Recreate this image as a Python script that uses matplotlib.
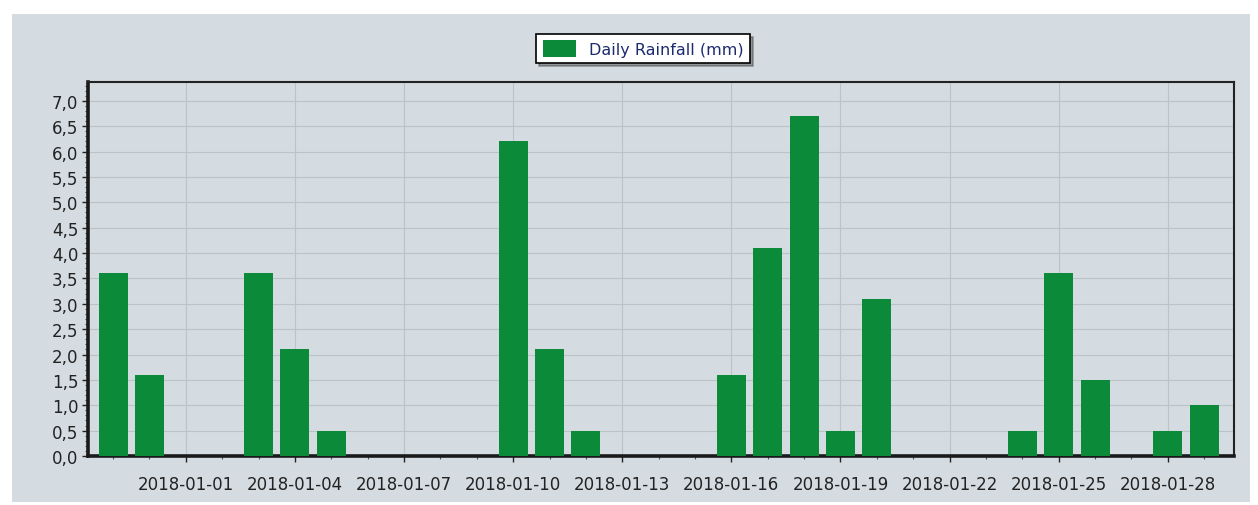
import numpy as np
import matplotlib.pyplot as plt
import matplotlib.dates as mdates
from matplotlib.patches import Rectangle
from matplotlib.ticker import MultipleLocator, FuncFormatter
from datetime import datetime

# daily rainfall readings (mm), only days with rain
rain_dates = ["2017-12-30", "2017-12-31", "2018-01-03", "2018-01-04", "2018-01-05",
              "2018-01-10", "2018-01-11", "2018-01-12", "2018-01-16", "2018-01-17",
              "2018-01-18", "2018-01-19", "2018-01-20", "2018-01-24", "2018-01-25",
              "2018-01-26", "2018-01-28", "2018-01-29"]
rain_mm = [3.6, 1.6, 3.6, 2.1, 0.5,
           6.2, 2.1, 0.5, 1.6, 4.1,
           6.7, 0.5, 3.1, 0.5, 3.6,
           1.5, 0.5, 1.0]

dates = [datetime.strptime(d, "%Y-%m-%d") for d in rain_dates]
x = mdates.date2num(dates)

bg = "#d4dce1"
green = "#0b8a3a"

fig = plt.figure(figsize=(12.58, 5.06), dpi=100, facecolor="white")
# grey panel of the screenshot
fig.patches.append(Rectangle((12 / 1258, 3 / 506), 1238 / 1258, 488 / 506,
                             transform=fig.transFigure, facecolor=bg,
                             edgecolor="none", zorder=-5))

ax = fig.add_axes([88 / 1258, 49 / 506, 1146 / 1258, 374 / 506])
ax.set_facecolor(bg)
ax.bar(x, rain_mm, width=0.8, color=green, label="Daily Rainfall (mm)", zorder=3)

ax.set_xlim(x[0] - 0.69, x[-1] + 0.82)
ax.set_ylim(0, 7.37)

ax.xaxis.set_major_locator(mdates.DayLocator(bymonthday=[1, 4, 7, 10, 13, 16, 19, 22, 25, 28]))
ax.xaxis.set_major_formatter(mdates.DateFormatter("%Y-%m-%d"))
ax.xaxis.set_minor_locator(mdates.DayLocator())
ax.yaxis.set_major_locator(MultipleLocator(0.5))
ax.yaxis.set_minor_locator(MultipleLocator(0.1))
ax.yaxis.set_major_formatter(FuncFormatter(lambda v, p: f"{v:.1f}".replace(".", ",")))

ax.grid(True, which="major", color="#bcc3c7", linewidth=0.8, zorder=0)
ax.set_axisbelow(True)
ax.tick_params(axis="both", which="major", labelsize=12, colors="#222222",
               length=4, width=1)
ax.tick_params(axis="both", which="minor", length=2, width=0.8, colors="#555555")
ax.tick_params(axis="x", which="major", pad=10)
ax.tick_params(axis="y", which="major", pad=3)

for side in ["left", "bottom"]:
    ax.spines[side].set_linewidth(2.6)
    ax.spines[side].set_color("#1a1a1a")
for side in ["top", "right"]:
    ax.spines[side].set_linewidth(1.5)
    ax.spines[side].set_color("#222222")

leg = fig.legend(loc="upper center", bbox_to_anchor=(643 / 1258, 1 - 27 / 506),
                 frameon=True, fancybox=False, shadow=True, edgecolor="black",
                 prop={"size": 11.5},
                 handlelength=2.1, handleheight=1.2, borderpad=0.4,
                 handletextpad=0.8)
leg.get_frame().set_linewidth(1.2)
for t in leg.get_texts():
    t.set_color("#1c2a6e")

fig.savefig("out.png", dpi=100, facecolor="white")
